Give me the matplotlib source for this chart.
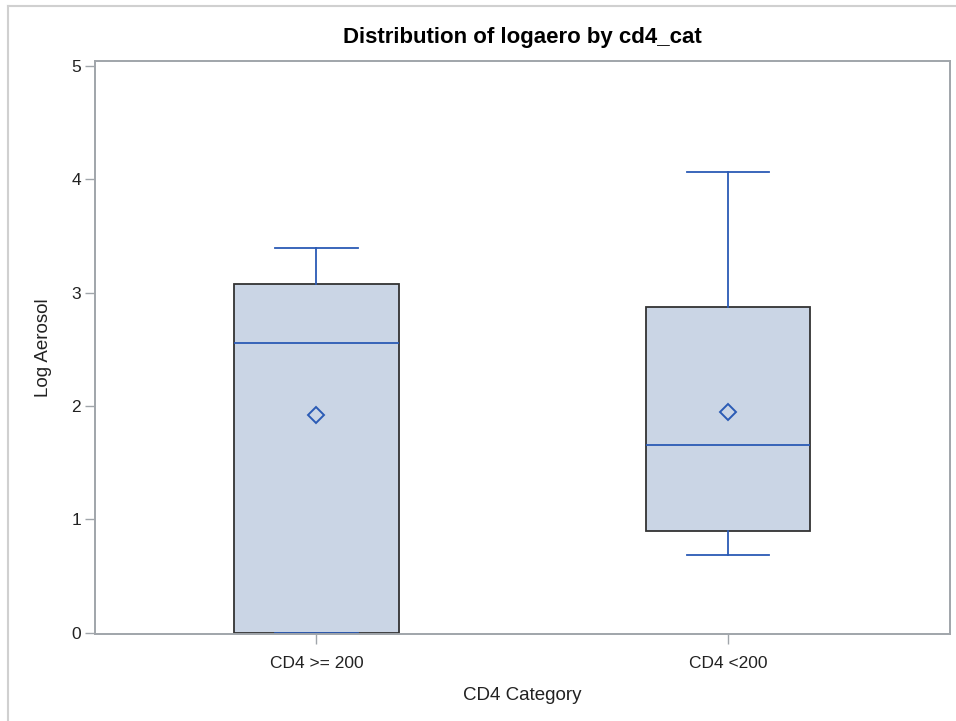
import matplotlib
matplotlib.use('Agg')
import matplotlib.pyplot as plt
from matplotlib.lines import Line2D

plt.rcParams['font.family'] = ['Liberation Sans', 'DejaVu Sans']

# summary statistics of logaero for each cd4 group
categories = ['CD4 >= 200', 'CD4 <200']
whislo = [0.0, 0.686]
q1 = [0.0, 0.892]
med = [2.556, 1.658]
q3 = [3.080, 2.874]
whishi = [3.395, 4.066]
mean = [1.923, 1.946]

blue = '#2B5BB5'
fill = '#CAD5E5'
axis_gray = '#A0A5AA'

stats = []
for i in range(len(categories)):
	stats.append(dict(label=categories[i], whislo=whislo[i], q1=q1[i], med=med[i],
					  q3=q3[i], whishi=whishi[i], mean=mean[i], fliers=[]))

fig = plt.figure(figsize=(9.56, 7.21), dpi=100)
ax = fig.add_axes([95/956, 1-634/721, (950-95)/956, (634-61)/721])

ax.bxp(stats, positions=[0, 1], widths=0.4, patch_artist=True, showmeans=True,
	   boxprops=dict(facecolor=fill, edgecolor='#333333', linewidth=1.3),
	   medianprops=dict(color=blue, linewidth=1.3),
	   whiskerprops=dict(color=blue, linewidth=1.3),
	   capprops=dict(color=blue, linewidth=1.3),
	   meanprops=dict(marker='D', markersize=8, markerfacecolor='none',
					  markeredgecolor=blue, markeredgewidth=1.4),
	   capwidths=0.2)

ax.set_xlim(-0.538, 1.539)
ax.set_ylim(-0.013, 5.044)
ax.set_yticks([0, 1, 2, 3, 4, 5])

for s in ax.spines.values():
	s.set_color(axis_gray)
	s.set_linewidth(1.4)
ax.tick_params(axis='both', colors=axis_gray, labelcolor='#222222', labelsize=12.5, length=7, width=1)
ax.tick_params(axis='x', pad=9)
ax.tick_params(axis='y', pad=3)

ax.set_title('Distribution of logaero by cd4_cat', fontsize=16, fontweight='bold', pad=13)
ax.set_xlabel('CD4 Category', fontsize=13.5, color='#222222', labelpad=11)
ax.set_ylabel('Log Aerosol', fontsize=13.5, color='#222222', labelpad=14)

# thin frame around the graph area
fig.add_artist(Line2D([8/956, 1], [1-6/721, 1-6/721], color='#D0D0D0', linewidth=1.5))
fig.add_artist(Line2D([8/956, 8/956], [0, 1-6/721], color='#D0D0D0', linewidth=1.5))

fig.savefig('out.png', dpi=100)
